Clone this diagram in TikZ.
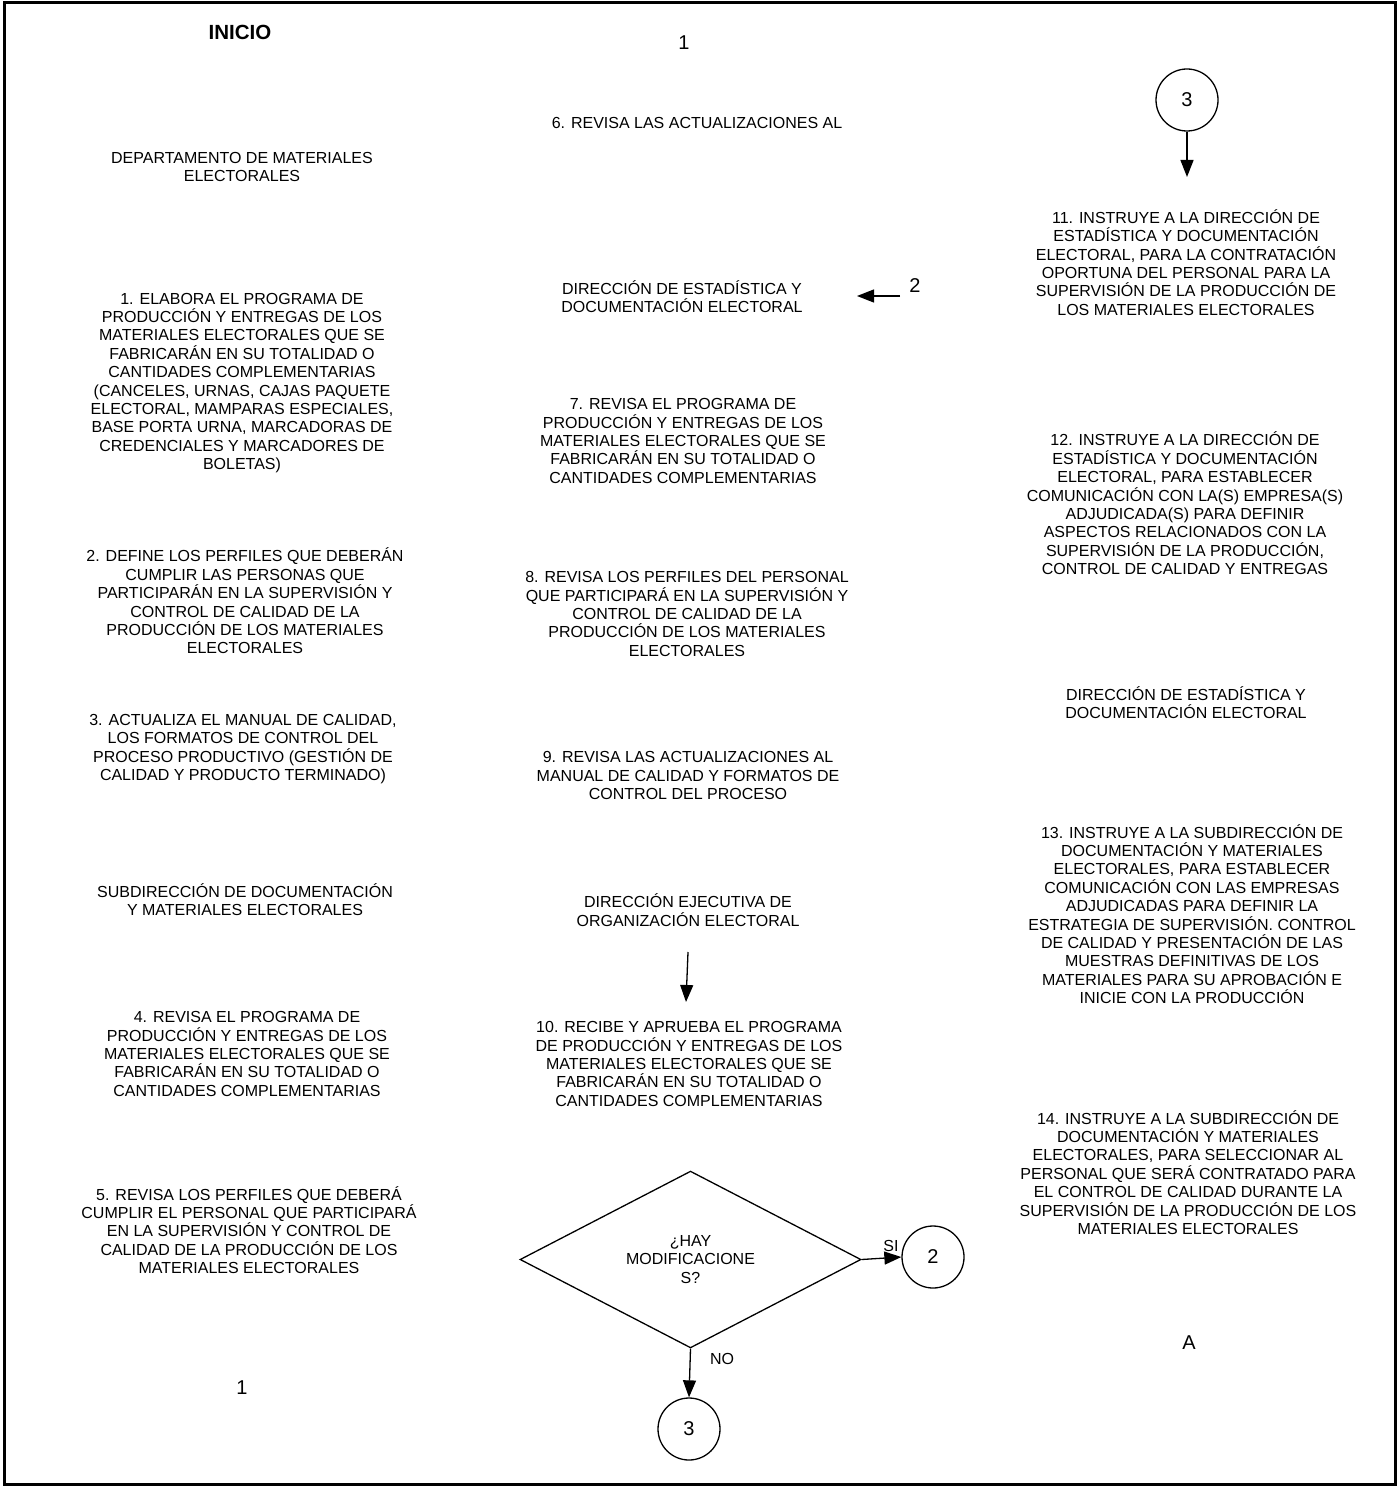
\documentclass[tikz,border=0pt]{standalone}
\usepackage{fontspec}
\setmainfont{Liberation Sans}
\usetikzlibrary{arrows.meta,shapes.geometric}

\begin{document}
\begin{tikzpicture}[x=1pt,y=-1pt,
		txt/.style={align=center, inner sep=0pt, font=\fontsize{16}{18.4}\selectfont},
		big/.style={inner sep=0pt, font=\fontsize{20}{22}\selectfont},
		conector/.style={circle, draw, line width=1.3pt, minimum size=62pt, inner sep=0pt, font=\fontsize{20}{22}\selectfont},
		flecha/.style={line width=1.3pt, -{Triangle[length=17pt,width=13pt]}}]
		\useasboundingbox (0,0) rectangle (1397,1487);
		\draw[line width=3.5pt] (4.7,2.5) rectangle (1395.5,1484.3);

		% columna izquierda
		\node[inner sep=0pt, font=\fontsize{20.5}{22}\selectfont\bfseries] (inicio) at (240,32) {INICIO};
		\node[txt] (depto) at (242,167) {DEPARTAMENTO DE MATERIALES\\ELECTORALES};
		\node[txt] (p1) at (242,383) {1. ELABORA EL PROGRAMA DE\\PRODUCCIÓN Y ENTREGAS DE LOS\\MATERIALES ELECTORALES QUE SE\\FABRICARÁN EN SU TOTALIDAD O\\CANTIDADES COMPLEMENTARIAS\\(CANCELES, URNAS, CAJAS PAQUETE\\ELECTORAL, MAMPARAS ESPECIALES,\\BASE PORTA URNA, MARCADORAS DE\\CREDENCIALES Y MARCADORES DE\\BOLETAS)};
		\node[txt] (p2) at (245,601) {2. DEFINE LOS PERFILES QUE DEBERÁN\\CUMPLIR LAS PERSONAS QUE\\PARTICIPARÁN EN LA SUPERVISIÓN Y\\CONTROL DE CALIDAD DE LA\\PRODUCCIÓN DE LOS MATERIALES\\ELECTORALES};
		\node[txt] (p3) at (243,749) {3. ACTUALIZA EL MANUAL DE CALIDAD,\\LOS FORMATOS DE CONTROL DEL\\PROCESO PRODUCTIVO (GESTIÓN DE\\CALIDAD Y PRODUCTO TERMINADO)};
		\node[txt] (subdir) at (245,899.5) {SUBDIRECCIÓN DE DOCUMENTACIÓN\\Y MATERIALES ELECTORALES};
		\node[txt] (p4) at (247,1054) {4. REVISA EL PROGRAMA DE\\PRODUCCIÓN Y ENTREGAS DE LOS\\MATERIALES ELECTORALES QUE SE\\FABRICARÁN EN SU TOTALIDAD O\\CANTIDADES COMPLEMENTARIAS};
		\node[txt] (p5) at (249,1230) {5. REVISA LOS PERFILES QUE DEBERÁ\\CUMPLIR EL PERSONAL QUE PARTICIPARÁ\\EN LA SUPERVISIÓN Y CONTROL DE\\CALIDAD DE LA PRODUCCIÓN DE LOS\\MATERIALES ELECTORALES};
		\node[big] (pag1b) at (242,1388) {1};

		% columna central
		\node[big] (pag1a) at (684,43) {1};
		\node[txt] (p6) at (697,123) {6. REVISA LAS ACTUALIZACIONES AL};
		\node[txt] (dirA) at (682,296.5) {DIRECCIÓN DE ESTADÍSTICA Y\\DOCUMENTACIÓN ELECTORAL};
		\node[big] (lbl2) at (915,286) {2};
		\coordinate (dirAin) at (900,296);
		\coordinate (dirAtip) at (857,296);
		\draw[flecha] (dirAin) -- (dirAtip);
		\node[txt] (p7) at (683,441) {7. REVISA EL PROGRAMA DE\\PRODUCCIÓN Y ENTREGAS DE LOS\\MATERIALES ELECTORALES QUE SE\\FABRICARÁN EN SU TOTALIDAD O\\CANTIDADES COMPLEMENTARIAS};
		\node[txt] (p8) at (687,614) {8. REVISA LOS PERFILES DEL PERSONAL\\QUE PARTICIPARÁ EN LA SUPERVISIÓN Y\\CONTROL DE CALIDAD DE LA\\PRODUCCIÓN DE LOS MATERIALES\\ELECTORALES};
		\node[txt] (p9) at (688,775.5) {9. REVISA LAS ACTUALIZACIONES AL\\MANUAL DE CALIDAD Y FORMATOS DE\\CONTROL DEL PROCESO};
		\node[txt] (deoe) at (688,910) {DIRECCIÓN EJECUTIVA DE\\ORGANIZACIÓN ELECTORAL};
		\coordinate (deoeout) at (688,952);
		\coordinate (p10in) at (686,1002);
		\draw[flecha] (deoeout) -- (p10in);
		\node[txt] (p10) at (689,1064) {10. RECIBE Y APRUEBA EL PROGRAMA\\DE PRODUCCIÓN Y ENTREGAS DE LOS\\MATERIALES ELECTORALES QUE SE\\FABRICARÁN EN SU TOTALIDAD O\\CANTIDADES COMPLEMENTARIAS};

		\node[diamond, draw, line width=1.3pt, minimum width=341pt, minimum height=173pt, inner sep=0pt, txt] (modif) at (690.5,1259.5) {¿HAY\\MODIFICACIONE\\S?};
		\node[conector] (c2) at (933,1257) {2};
		\node[conector] (c3b) at (689,1429) {3};
		\draw[flecha] (modif.east) -- (c2.west);
		\draw[flecha] (modif.south) -- (c3b.north);
		\node[txt] (si) at (891,1246) {SI};
		\node[txt] (no) at (722,1359) {NO};

		% columna derecha
		\node[conector] (c3a) at (1187,100) {3};
		\coordinate (p11in) at (1187,177);
		\draw[flecha] (c3a.south) -- (p11in);
		\node[txt] (p11) at (1186,262.5) {11. INSTRUYE A LA DIRECCIÓN DE\\ESTADÍSTICA Y DOCUMENTACIÓN\\ELECTORAL, PARA LA CONTRATACIÓN\\OPORTUNA DEL PERSONAL PARA LA\\SUPERVISIÓN DE LA PRODUCCIÓN DE\\LOS MATERIALES ELECTORALES};
		\node[txt] (p12) at (1185,503.5) {12. INSTRUYE A LA DIRECCIÓN DE\\ESTADÍSTICA Y DOCUMENTACIÓN\\ELECTORAL, PARA ESTABLECER\\COMUNICACIÓN CON LA(S) EMPRESA(S)\\ADJUDICADA(S) PARA DEFINIR\\ASPECTOS RELACIONADOS CON LA\\SUPERVISIÓN DE LA PRODUCCIÓN,\\CONTROL DE CALIDAD Y ENTREGAS};
		\node[txt] (dirB) at (1186,702.5) {DIRECCIÓN DE ESTADÍSTICA Y\\DOCUMENTACIÓN ELECTORAL};
		\node[txt] (p13) at (1192,914) {13. INSTRUYE A LA SUBDIRECCIÓN DE\\DOCUMENTACIÓN Y MATERIALES\\ELECTORALES, PARA ESTABLECER\\COMUNICACIÓN CON LAS EMPRESAS\\ADJUDICADAS PARA DEFINIR LA\\ESTRATEGIA DE SUPERVISIÓN. CONTROL\\DE CALIDAD Y PRESENTACIÓN DE LAS\\MUESTRAS DEFINITIVAS DE LOS\\MATERIALES PARA SU APROBACIÓN E\\INICIE CON LA PRODUCCIÓN};
		\node[txt] (p14) at (1188,1172.5) {14. INSTRUYE A LA SUBDIRECCIÓN DE\\DOCUMENTACIÓN Y MATERIALES\\ELECTORALES, PARA SELECCIONAR AL\\PERSONAL QUE SERÁ CONTRATADO PARA\\EL CONTROL DE CALIDAD DURANTE LA\\SUPERVISIÓN DE LA PRODUCCIÓN DE LOS\\MATERIALES ELECTORALES};
		\node[big] (pagA) at (1189,1343) {A};
	\end{tikzpicture}
\end{document}
